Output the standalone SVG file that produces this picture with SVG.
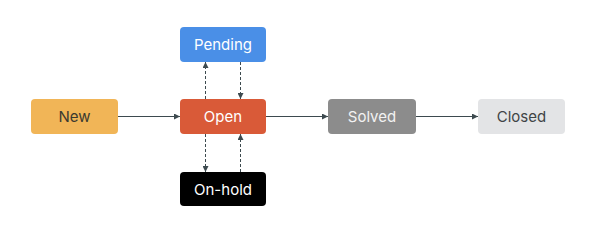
<svg xmlns="http://www.w3.org/2000/svg" width="600" height="236" viewBox="0 0 600 236">
<style>
.box{stroke:none}
.lbl{font-family:Inter,"Liberation Sans",sans-serif;font-size:15px;text-anchor:middle;dominant-baseline:central}
.line{stroke:#3d4a4f;stroke-width:1;fill:none}
.dash{stroke:#3d4a4f;stroke-width:1;fill:none;stroke-dasharray:3 2}
</style>
<defs>
<marker id="ah" viewBox="0 0 10 10" refX="10" refY="5" markerWidth="6" markerHeight="6" markerUnits="userSpaceOnUse" orient="auto">
<path d="M0,0 L10,5 L0,10 z" fill="#3d4a4f"/>
</marker>
</defs>
<rect width="600" height="236" fill="#ffffff"/>
<g id="connectors">
<line class="line" x1="118" y1="116.5" x2="180" y2="116.5" marker-end="url(#ah)"/>
<line class="line" x1="266" y1="116.5" x2="328" y2="116.5" marker-end="url(#ah)"/>
<line class="line" x1="416" y1="116.5" x2="478" y2="116.5" marker-end="url(#ah)"/>
<line class="dash" x1="205.5" y1="99" x2="205.5" y2="62" marker-end="url(#ah)"/>
<line class="dash" x1="240.5" y1="62" x2="240.5" y2="99" marker-end="url(#ah)"/>
<line class="dash" x1="205.5" y1="134" x2="205.5" y2="172" marker-end="url(#ah)"/>
<line class="dash" x1="240.5" y1="172" x2="240.5" y2="134" marker-end="url(#ah)"/>
</g>
<g id="new">
<rect class="box" x="31" y="99" width="87" height="35" rx="4" fill="#f1b557"/>
<text class="lbl" x="74.5" y="116.5" fill="#3b3a30">New</text>
</g>
<g id="open">
<rect class="box" x="180" y="99" width="86" height="35" rx="4" fill="#d95a38"/>
<text class="lbl" x="223" y="116.5" fill="#ffffff">Open</text>
</g>
<g id="pending">
<rect class="box" x="180" y="27" width="86" height="35" rx="4" fill="#4a8fe7"/>
<text class="lbl" x="223" y="44.5" fill="#ffffff">Pending</text>
</g>
<g id="onhold">
<rect class="box" x="180" y="172" width="86" height="34" rx="4" fill="#000000"/>
<text class="lbl" x="223" y="189" fill="#ffffff">On-hold</text>
</g>
<g id="solved">
<rect class="box" x="328" y="99" width="88" height="35" rx="4" fill="#8c8c8c"/>
<text class="lbl" x="372" y="116.5" fill="#f2f2f2">Solved</text>
</g>
<g id="closed">
<rect class="box" x="478" y="99" width="87" height="35" rx="4" fill="#e3e4e6"/>
<text class="lbl" x="521.5" y="116.5" fill="#3f4446">Closed</text>
</g>
</svg>
